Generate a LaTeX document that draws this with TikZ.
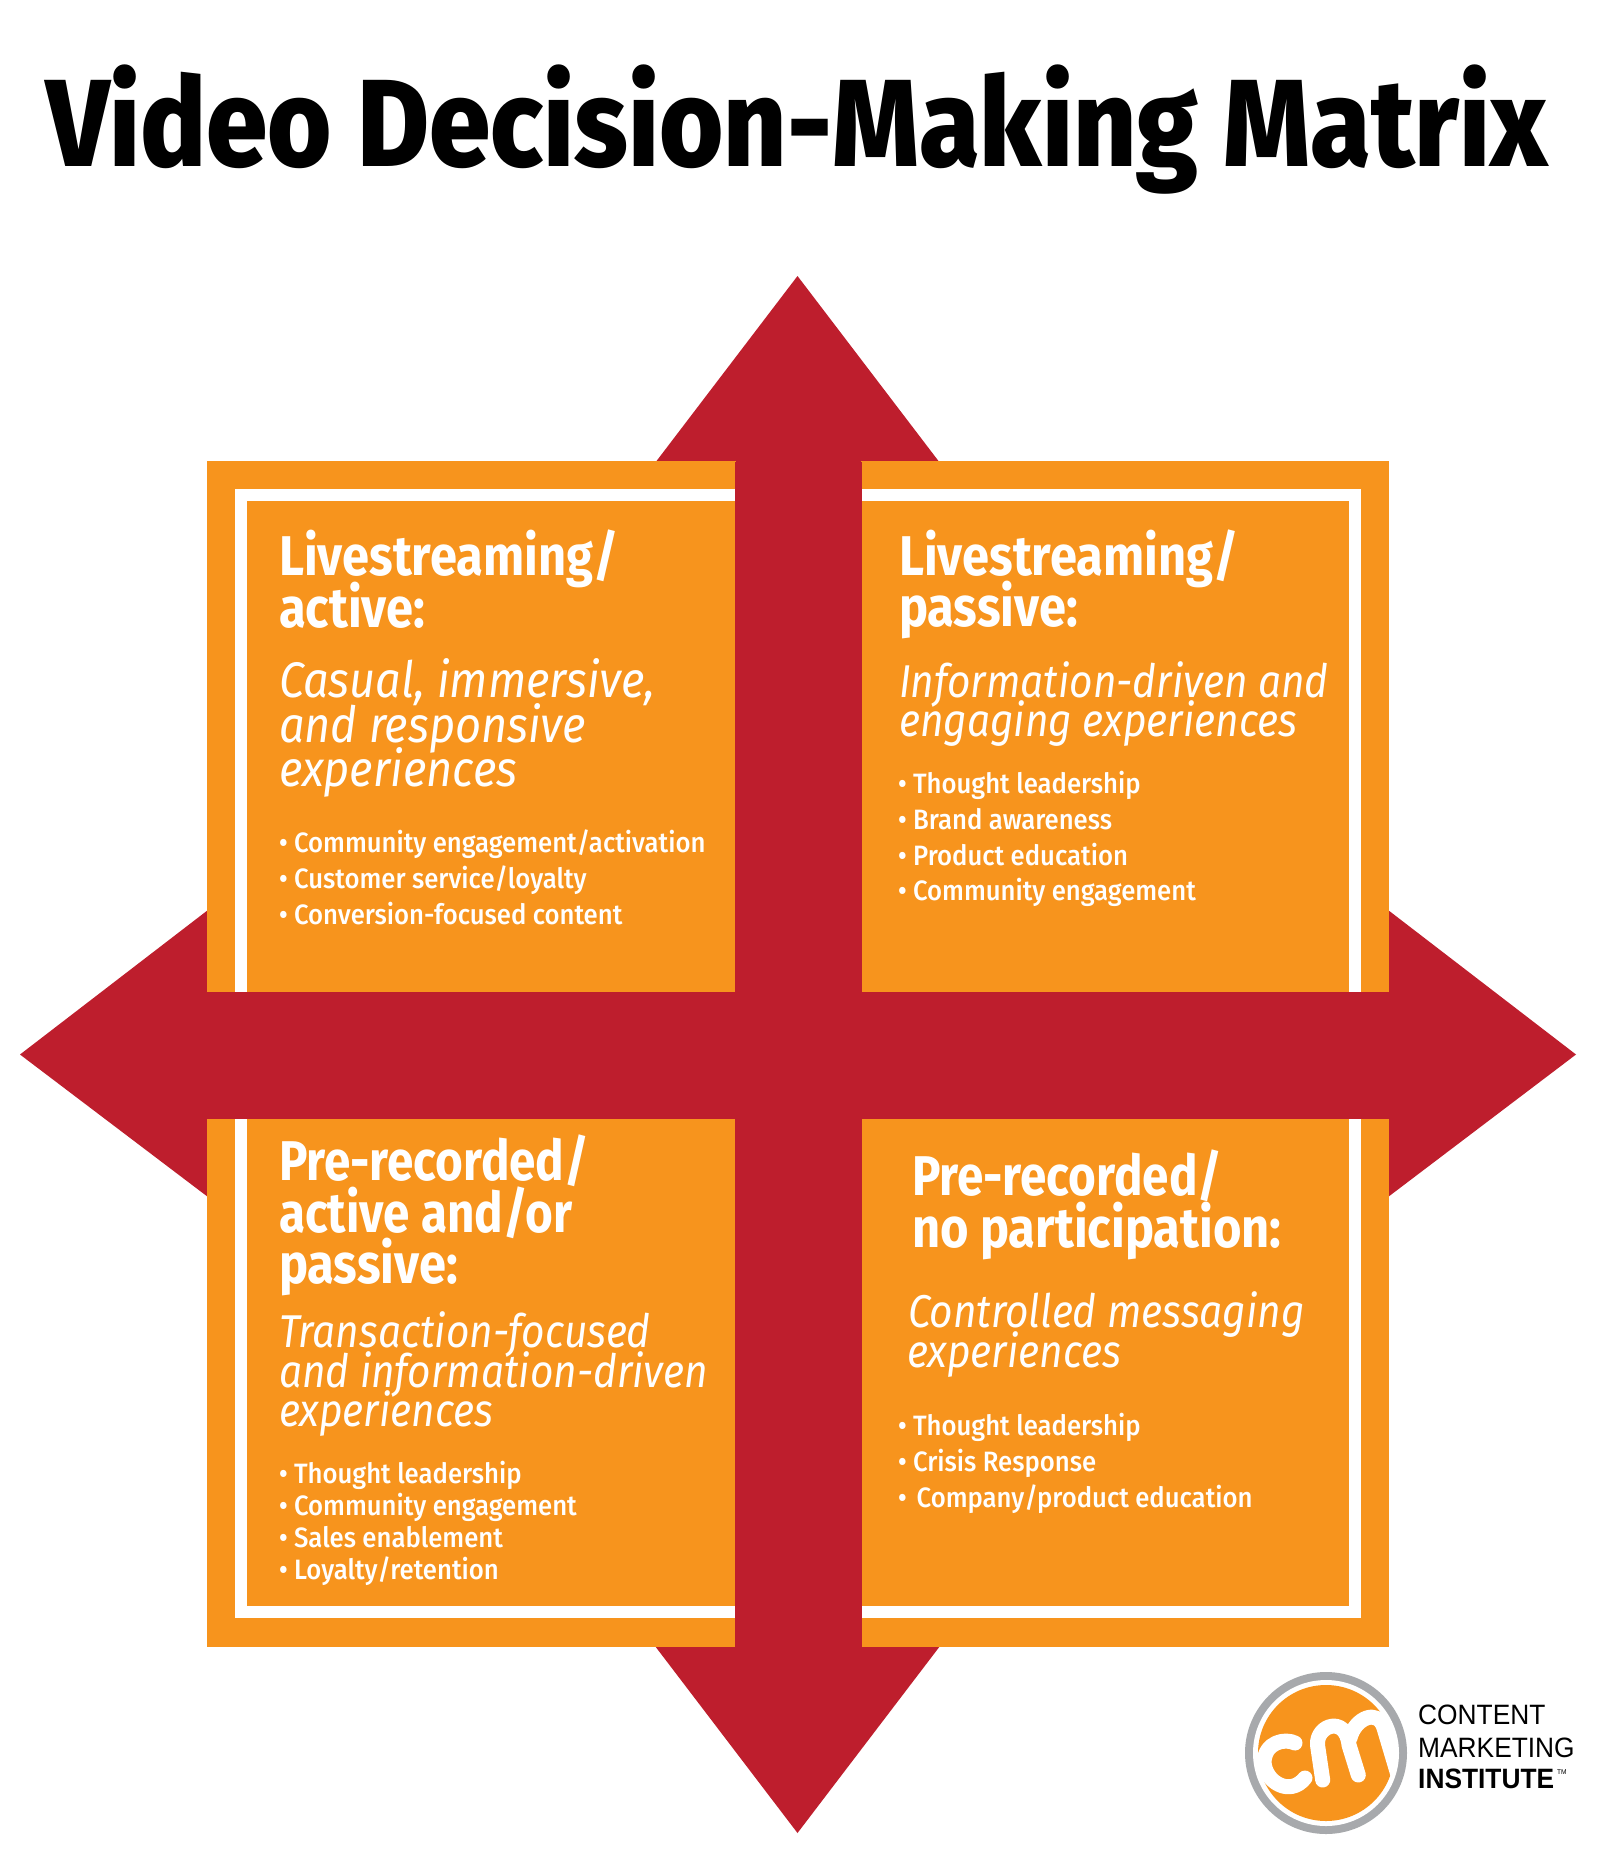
\documentclass[tikz,border=0pt]{standalone}
\usepackage{fontspec}
\setmainfont{Fira Sans}
\newfontfamily\titlef{Fira Sans ExtraBold}[FakeStretch=0.889]
\newfontfamily\headf{Fira Sans}[FakeStretch=0.872]
\newfontfamily\headtf{Fira Sans}[FakeStretch=0.85]
\newfontfamily\bigitf{Fira Sans}[FakeStretch=0.903]
\newfontfamily\smitf{Fira Sans}[FakeStretch=0.883]
\newfontfamily\bulf{Fira Sans Medium}[FakeStretch=0.918]
\newfontfamily\logof{Liberation Sans}[FakeStretch=0.94]
\definecolor{cmired}{HTML}{BE1E2D}
\definecolor{cmiorange}{HTML}{F7941D}
\definecolor{cmigrey}{HTML}{A7A9AC}
\tikzset{
  x=1pt,y=-1pt,
  line/.style={inner sep=0pt,outer sep=0pt,anchor=base west,text=white},
  heading/.style={line,font=\headf\bfseries\fontsize{56}{56}\selectfont},
  headingtight/.style={line,font=\headtf\bfseries\fontsize{56}{56}\selectfont},
  bigital/.style={line,font=\bigitf\itshape\fontsize{50}{50}\selectfont},
  smital/.style={line,font=\smitf\itshape\fontsize{46}{46}\selectfont},
  bullet/.style={line,font=\bulf\fontsize{28}{28}\selectfont},
  panel/.style={fill=cmiorange,draw=none},
  frame/.style={fill=white,draw=none},
  logotext/.style={inner sep=0pt,anchor=base west,text=black,font=\logof\fontsize{28}{28}\selectfont},
  cmstroke/.style={draw=white,line width=15pt,line cap=round,line join=round}
}
\begin{document}
\begin{tikzpicture}
\useasboundingbox (0,0) rectangle (1600,1858);
\fill[white] (0,0) rectangle (1600,1858);
% title
\node[inner sep=0pt,anchor=base west,font=\titlef\fontsize{124}{124}\selectfont] (title) at (46,166) {Video Decision-Making Matrix};
% arrowheads of the red cross
\fill[cmired] (797.5,276) -- (940,463) -- (655,463) -- cycle;
\fill[cmired] (797.5,1833) -- (940,1646) -- (655,1646) -- cycle;
\fill[cmired] (20,1054.5) -- (208,910) -- (208,1197) -- cycle;
\fill[cmired] (1576,1054.5) -- (1388,910) -- (1388,1197) -- cycle;
% panels
\fill[panel] (207,461) rectangle (736,992);
\fill[panel] (861,461) rectangle (1389,992);
\fill[panel] (207,1118) rectangle (736,1647);
\fill[panel] (861,1118) rectangle (1389,1647);
% white frames
\fill[frame] (235,489) rectangle (736,501);
\fill[frame] (235,489) rectangle (247,992);
\fill[frame] (861,489) rectangle (1361,501);
\fill[frame] (1349,489) rectangle (1361,992);
\fill[frame] (235,1118) rectangle (247,1618);
\fill[frame] (235,1606) rectangle (736,1618);
\fill[frame] (1349,1118) rectangle (1361,1618);
\fill[frame] (861,1606) rectangle (1361,1618);
% bars of the red cross
\fill[cmired] (734.6,462) rectangle (861.5,1647);
\fill[cmired] (207,991.5) rectangle (1389,1118.5);
% top-left
\node[heading] (tl1) at (279,575) {Livestreaming/};
\node[heading] (tl2) at (279,627) {active:};
\node[bigital] (tl3) at (279,697) {Casual, immersive,};
\node[bigital] (tl4) at (279,742) {and responsive};
\node[bigital] (tl5) at (279,786) {experiences};
\node[bullet] (tl6) at (279,852) {• Community engagement/activation};
\node[bullet] (tl7) at (279,888) {• Customer service/loyalty};
\node[bullet] (tl8) at (279,924) {• Conversion-focused content};
% top-right
\node[heading] (tr1) at (899,575) {Livestreaming/};
\node[heading] (tr2) at (899,626) {passive:};
\node[smital] (tr3) at (899,697) {Information-driven and};
\node[smital] (tr4) at (899,736) {engaging experiences};
\node[bullet] (tr5) at (898,793) {• Thought leadership};
\node[bullet] (tr6) at (898,829) {• Brand awareness};
\node[bullet] (tr7) at (898,865) {• Product education};
\node[bullet] (tr8) at (898,900) {• Community engagement};
% bottom-left
\node[headingtight] (bl1) at (279,1180) {Pre-recorded/};
\node[headingtight] (bl2) at (279,1232) {active and/or};
\node[heading] (bl3) at (279,1283) {passive:};
\node[smital] (bl4) at (279,1347) {Transaction-focused};
\node[smital] (bl5) at (279,1387) {and information-driven};
\node[smital] (bl6) at (279,1426) {experiences};
\node[bullet] (bl7) at (279,1483) {• Thought leadership};
\node[bullet] (bl8) at (279,1515) {• Community engagement};
\node[bullet] (bl9) at (279,1547) {• Sales enablement};
\node[bullet] (bl10) at (279,1579) {• Loyalty/retention};
% bottom-right
\node[headingtight] (br1) at (912,1195) {Pre-recorded/};
\node[heading] (br2) at (912,1247) {no participation:};
\node[smital] (br3) at (908,1327) {Controlled messaging};
\node[smital] (br4) at (907,1367) {experiences};
\node[bullet] (br5) at (898,1435) {• Thought leadership};
\node[bullet] (br6) at (898,1471) {• Crisis Response};
\node[bullet] (br7) at (898,1507) {•\hspace{10pt}Company/product education};
% logo
\fill[cmigrey] (1326,1753) circle[radius=81];
\fill[white] (1326,1753) circle[radius=73];
\fill[cmiorange] (1326,1753) circle[radius=68];
\begin{scope}
\clip (1326,1753) circle[radius=72];
\draw[cmstroke] (1295,1743) .. controls (1285,1738) and (1265,1742) .. (1264,1762) .. controls (1265,1782) and (1290,1797) .. (1305,1778);
\draw[cmstroke] (1322.7,1780) -- (1317.5,1745) .. controls (1316,1725) and (1346,1715) .. (1349,1745) -- (1358.3,1775);
\draw[cmstroke] (1350,1738) .. controls (1355,1718) and (1378,1708) .. (1384,1728) -- (1398,1775);
\end{scope}
\node[logotext] (lg1) at (1418,1724) {CONTENT};
\node[logotext] (lg2) at (1418,1757) {MARKETING};
\node[logotext,font=\logof\bfseries\fontsize{28}{28}\selectfont] (lg3) at (1418,1788) {INSTITUTE};
\node[inner sep=0pt,anchor=base west,font=\logof\fontsize{7}{7}\selectfont] (lg4) at (1557,1774) {TM};
\end{tikzpicture}
\end{document}
